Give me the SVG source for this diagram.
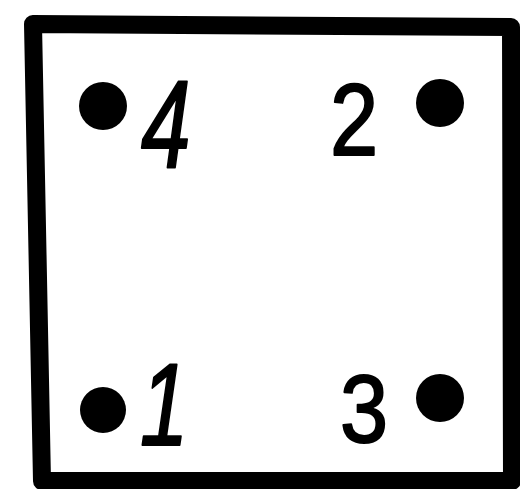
<svg xmlns="http://www.w3.org/2000/svg" width="520" height="489" viewBox="0 0 520 489">
<style>
.frame{fill:none;stroke:#000;stroke-width:18;stroke-linejoin:round}
.dot{fill:#000}
.lbl{font-family:"Liberation Sans",Arial,sans-serif;fill:#000;stroke:#000;stroke-width:2;stroke-linejoin:round}
.it{font-style:italic}
</style>
<rect width="520" height="489" fill="#fff"/>
<g id="frame"><path class="frame" d="M33,24 L511,27 L512,481 L42,481 Z"/></g>
<g id="node4"><circle class="dot" cx="103" cy="106" r="24"/><text class="lbl it" transform="translate(141,167) scale(0.72,1)" font-size="124">4</text></g>
<g id="node2"><circle class="dot" cx="440" cy="103" r="24"/><text class="lbl" transform="translate(330,155) scale(0.85,1)" font-size="102">2</text></g>
<g id="node1"><circle class="dot" cx="103" cy="410" r="23"/><text class="lbl it" transform="translate(140,445) scale(0.75,1)" font-size="116">1</text></g>
<g id="node3"><circle class="dot" cx="440" cy="398" r="24"/><text class="lbl" transform="translate(340,442) scale(0.9,1)" font-size="96">3</text></g>
<g id="connectors"></g>
</svg>
